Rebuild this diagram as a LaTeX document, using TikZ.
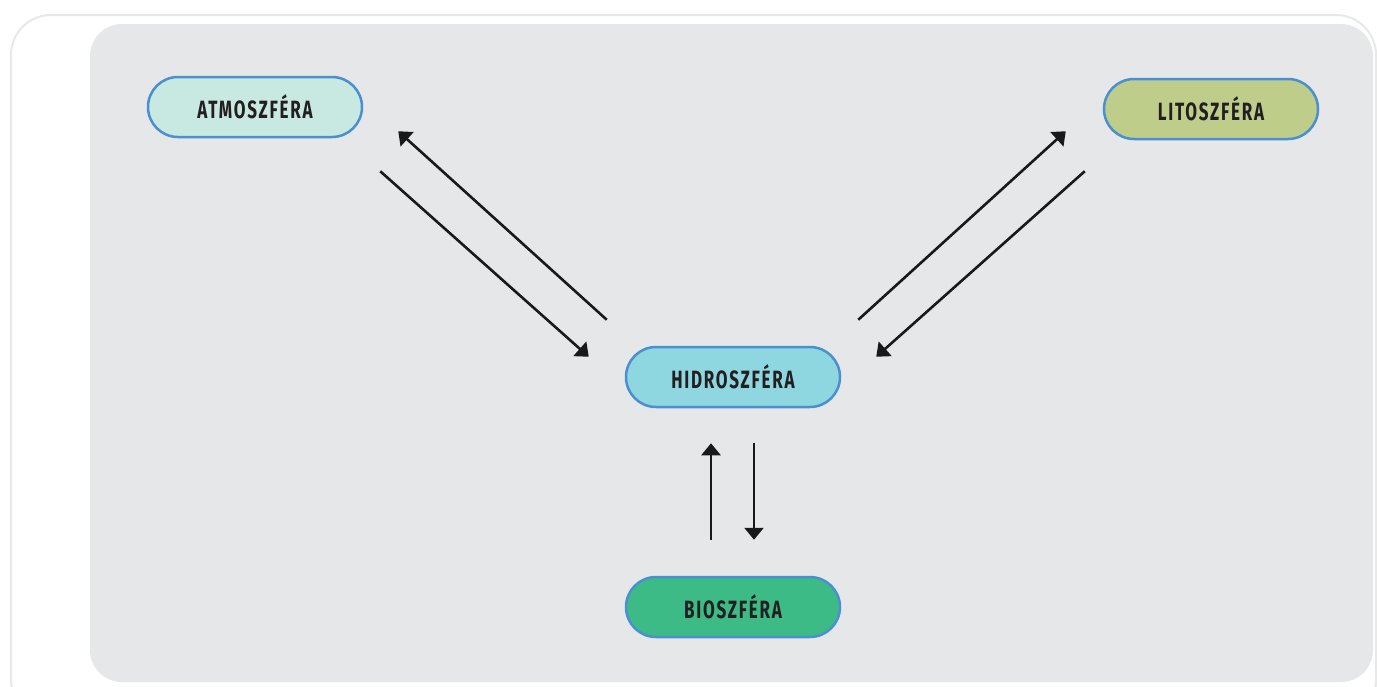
\documentclass[tikz,border=0pt]{standalone}
\usepackage{fontspec}
\newfontfamily\boxfont{Fira Sans}[FakeStretch=0.68,LetterSpace=7]
\usetikzlibrary{arrows.meta,shadows}
\definecolor{panelgray}{HTML}{E6E7E9}
\definecolor{boxline}{HTML}{4A90D0}
\definecolor{atmofill}{HTML}{C8E8E2}
\definecolor{litofill}{HTML}{BFCD8B}
\definecolor{hidrofill}{HTML}{8ED6E0}
\definecolor{biofill}{HTML}{3CBB86}
\definecolor{inktext}{HTML}{231F20}
\begin{document}
\begin{tikzpicture}[x=1pt,y=-1pt]
		\tikzstyle{sphere}=[rectangle,rounded corners=30pt,line width=2.5pt,draw=boxline,minimum width=214pt,minimum height=60pt,text=inktext,font=\boxfont\bfseries\fontsize{25}{27}\selectfont]
		\tikzstyle{flow}=[draw=black!90,line width=2.6pt,-{Triangle[length=12pt,width=19pt]}]

		\useasboundingbox (0,0) rectangle (1377,686);
		% card and panel
		\fill[white,draw=black!9,line width=2pt,rounded corners=40pt,drop shadow={opacity=0.12,shadow xshift=1pt,shadow yshift=-2pt}] (11,15) rectangle (1376,720);
		\fill[panelgray,rounded corners=32pt] (90,24) rectangle (1373,682);

		\node [sphere,fill=atmofill] (atmo) at (255,107) {ATMOSZFÉRA};
		\node [sphere,fill=litofill] (lito) at (1211,109) {LITOSZFÉRA};
		\node [sphere,fill=hidrofill] (hidro) at (733,377) {HIDROSZFÉRA};
		\node [sphere,fill=biofill] (bio) at (733,607) {BIOSZFÉRA};

		\path[flow] ([shift={(17,33)}]atmo.south east) -- ([shift={(-36,11)}]hidro.north west);
		\path[flow] ([shift={(-18,-26)}]hidro.north west) -- ([shift={(35,-7)}]atmo.south east);
		\path[flow] ([shift={(17,-26)}]hidro.north east) -- ([shift={(-37,-9)}]lito.south west);
		\path[flow] ([shift={(-18,31)}]lito.south west) -- ([shift={(35,11)}]hidro.north east);
		\path[flow] ([shift={(21,35)}]hidro.south) -- ([shift={(21,-36)}]bio.north);
		\path[flow] ([shift={(-22,-36)}]bio.north) -- ([shift={(-22,35)}]hidro.south);

	\end{tikzpicture}
\end{document}
